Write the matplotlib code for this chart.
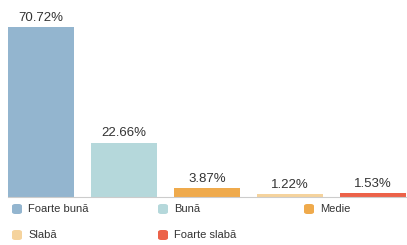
import matplotlib.pyplot as plt
from matplotlib.patches import FancyBboxPatch

plt.rcParams['font.family'] = ['Liberation Sans', 'DejaVu Sans']

categories = ['Foarte bună', 'Bună', 'Medie', 'Slabă', 'Foarte slabă']
values = [70.72, 22.66, 3.87, 1.22, 1.53]
colors = ['#93B5CF', '#B5D8DB', '#EFAA4C', '#F5D39D', '#EC6249']

W, H = 407, 245
fig = plt.figure(figsize=(W / 100, H / 100), dpi=100)
ax = fig.add_axes([8 / W, 48 / H, 398 / W, 197 / H])

x = range(len(values))
ax.bar(x, values, width=0.8, color=colors)
for i, v in zip(x, values):
    ax.text(i, v + 1.3, f'{v:.2f}%', ha='center', va='bottom',
            fontsize=9.5, color='#333333')

ax.set_xlim(-0.4, 4.4)
ax.set_ylim(0, 82)
for s in ['top', 'right', 'left']:
    ax.spines[s].set_visible(False)
ax.spines['bottom'].set_color('#cccccc')
ax.spines['bottom'].set_linewidth(0.8)
ax.set_xticks([])
ax.set_yticks([])

# legend laid out in rows of three
col_x = [12, 158, 304]
row_y = [209, 235]
for k, (name, c) in enumerate(zip(categories, colors)):
    px = col_x[k % 3]
    py = row_y[k // 3]
    box = FancyBboxPatch(((px) / W, 1 - (py + 5) / H), 10 / W, 10 / H,
                         boxstyle='round,pad=0,rounding_size=0.008',
                         transform=fig.transFigure, facecolor=c,
                         edgecolor='none')
    fig.add_artist(box)
    fig.text((px + 16) / W, 1 - py / H, name, fontsize=8, color='#333333',
             va='center', ha='left')

fig.savefig('out.png', dpi=100)
